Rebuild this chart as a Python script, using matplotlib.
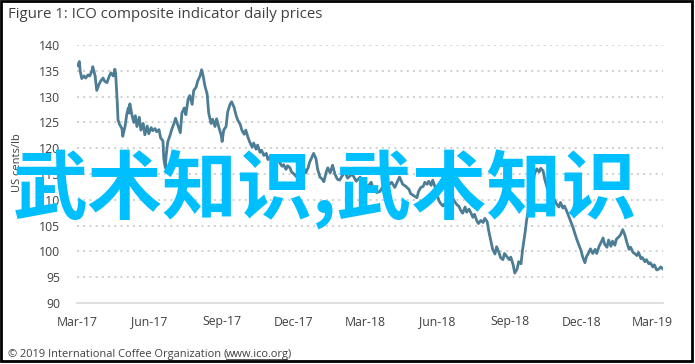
import numpy as np
import pandas as pd
import matplotlib
matplotlib.use('Agg')
import matplotlib.pyplot as plt
import matplotlib.dates as mdates
from matplotlib.patches import Rectangle

# days after 1 Mar 2017
day = [1, 3, 4, 6, 9, 11, 14, 16, 19, 20, 23, 25, 28, 30, 33, 35, 38, 41, 43, 46,
       48, 49, 51, 52, 54, 57, 58, 61, 63, 65, 66, 67, 70, 72, 74, 76, 79, 81, 84, 86,
       89, 91, 94, 96, 99, 101, 104, 106, 109, 110, 112, 113, 115, 118, 120, 123, 125, 128, 131, 133,
       136, 138, 141, 143, 146, 148, 151, 153, 156, 158, 160, 162, 165, 167, 170, 172, 175, 177, 180, 183,
       184, 186, 189, 191, 194, 196, 199, 202, 204, 207, 209, 212, 214, 217, 219, 222, 224, 227, 229, 232,
       234, 237, 240, 242, 245, 247, 250, 252, 255, 257, 260, 262, 265, 267, 270, 272, 275, 278, 280, 283,
       285, 288, 290, 293, 295, 298, 300, 303, 305, 308, 311, 313, 316, 318, 321, 324, 327, 330, 333, 336,
       340, 343, 349, 354, 359, 364, 369, 373, 376, 380, 384, 388, 392, 395, 399, 403, 407, 409, 413, 417,
       421, 423, 427, 431, 433, 436, 439, 441, 444, 446, 449, 451, 454, 456, 459, 461, 464, 466, 469, 471,
       474, 477, 479, 482, 484, 487, 489, 492, 494, 497, 499, 502, 504, 507, 509, 512, 515, 517, 520, 522,
       525, 527, 530, 532, 535, 537, 540, 542, 545, 548, 550, 553, 555, 558, 560, 563, 565, 568, 570, 573,
       575, 578, 580, 583, 586, 588, 591, 593, 596, 598, 601, 603, 606, 608, 611, 613, 616, 618, 621, 624,
       626, 629, 631, 634, 636, 639, 641, 644, 646, 649, 651, 654, 657, 659, 662, 664, 667, 669, 672, 674,
       677, 679, 682, 684, 687, 689, 692, 695, 697, 700, 702, 705, 707, 710, 712, 715, 717, 720, 722, 725,
       727, 730, 732, 735, 738, 740, 743]

price = [136.0, 136.8, 135.0, 133.5, 134.0, 133.6, 134.2, 134.0, 135.0, 135.8, 134.0, 131.2, 132.4, 133.0, 133.6, 133.0, 132.7, 134.0, 134.6, 134.0,
         135.3, 134.5, 129.0, 125.5, 124.6, 123.8, 122.3, 124.3, 126.5, 127.8, 126.8, 128.6, 126.2, 125.0, 126.3, 124.2, 126.0, 123.5, 124.8, 122.6,
         124.3, 122.8, 124.0, 123.4, 123.8, 123.2, 123.6, 122.0, 121.4, 118.0, 116.2, 118.5, 121.2, 122.5, 123.6, 124.8, 125.8, 124.4, 123.0, 126.8,
         127.8, 126.5, 129.6, 130.2, 128.5, 131.2, 131.8, 133.0, 134.0, 135.2, 134.0, 132.2, 130.5, 126.8, 124.8, 125.6, 124.2, 125.7, 124.0, 122.4,
         121.3, 123.5, 124.2, 127.0, 128.5, 129.0, 128.0, 126.2, 125.4, 124.6, 123.5, 122.7, 123.5, 122.0, 121.2, 120.2, 121.0, 119.8, 120.6, 119.2,
         119.6, 118.6, 119.0, 117.8, 118.4, 117.6, 118.2, 117.5, 118.0, 117.2, 116.5, 116.8, 115.9, 116.6, 116.2, 115.4, 115.0, 114.5, 115.5, 116.5,
         115.6, 116.0, 115.2, 116.2, 117.3, 118.3, 119.0, 118.0, 116.0, 114.4, 114.0, 113.5, 115.4, 116.2, 115.2, 116.7, 115.0, 114.0, 113.8, 114.6,
         115.4, 114.2, 115.0, 113.6, 114.4, 113.0, 112.6, 113.4, 112.0, 111.4, 111.6, 112.6, 112.0, 112.8, 113.4, 112.4, 113.8, 114.4, 113.0, 112.6,
         112.0, 111.2, 110.8, 110.4, 111.6, 112.4, 112.6, 113.4, 113.0, 113.6, 112.8, 113.8, 112.5, 111.2, 109.8, 109.3, 108.8, 109.2, 108.6, 110.0,
         109.2, 110.2, 109.6, 109.0, 108.8, 107.8, 107.4, 108.6, 107.6, 108.2, 107.6, 106.6, 107.2, 105.9, 105.4, 106.0, 105.6, 106.4, 105.8, 104.0,
         101.8, 100.4, 99.5, 100.9, 99.8, 98.8, 98.4, 99.6, 99.0, 98.4, 98.9, 97.4, 95.8, 96.6, 98.0, 97.6, 100.4, 103.5, 106.0, 108.6,
         110.4, 112.8, 115.0, 116.0, 115.4, 116.1, 115.6, 114.0, 112.4, 111.6, 112.0, 110.8, 109.8, 109.2, 108.6, 109.5, 108.4, 108.8, 107.8, 106.6,
         105.8, 104.6, 103.6, 102.2, 101.4, 100.2, 99.0, 97.8, 99.0, 99.8, 100.5, 99.6, 100.4, 99.6, 101.0, 101.6, 102.6, 101.4, 100.8, 102.2,
         101.0, 102.0, 101.2, 102.4, 102.8, 103.2, 104.2, 103.0, 101.8, 100.4, 100.8, 99.8, 99.6, 99.2, 99.8, 98.6, 98.8, 98.0, 98.4, 97.6,
         97.8, 97.0, 97.4, 96.4, 96.6, 97.0, 96.6]

y_ticks = [90, 95, 100, 105, 110, 115, 120, 125, 130, 135, 140]
x_ticks = ['2017-03-01', '2017-06-01', '2017-09-01', '2017-12-01', '2018-03-01',
           '2018-06-01', '2018-09-01', '2018-12-01', '2019-03-01']

title = 'Figure 1: ICO composite indicator daily prices'
source = '\u00a9 2019 International Coffee Organization ('
source_link = 'www.ico.org'
overlay = '武术知识,武术知识'

start = pd.Timestamp('2017-03-01')
dates = start + pd.to_timedelta(day, unit='D')

W, H = 695, 364
fig = plt.figure(figsize=(W / 100, H / 100), dpi=100)
fig.patch.set_facecolor('white')

ax = fig.add_axes([77 / W, 1 - 303 / H, 586 / W, 258 / H])
ax.plot(dates, price, color='#4d7d94', lw=2.0, zorder=3)

ax.set_ylim(90, 140)
ax.set_yticks(y_ticks)
ax.set_xlim(start, start + pd.Timedelta(days=743))
ax.set_xticks(pd.to_datetime(x_ticks))
ax.xaxis.set_major_formatter(mdates.DateFormatter('%b-%y'))

for v in y_ticks[1:]:
    ax.axhline(v, color='#cfcfcf', lw=1.4, ls=(0, (1, 2.2)), zorder=1)

for s in ['top', 'right', 'left']:
    ax.spines[s].set_visible(False)
ax.spines['bottom'].set_color('#d9d9d9')
ax.spines['bottom'].set_linewidth(1.2)
ax.tick_params(length=0, labelsize=8.8, colors='#404040')
ax.tick_params(axis='y', pad=12)
ax.tick_params(axis='x', pad=9)
for lab in ax.get_xticklabels() + ax.get_yticklabels():
    lab.set_family('Open Sans')

fig.text(18 / W, 1 - 163 / H, 'US cents/lb', rotation=90, ha='center', va='center',
         fontsize=8, color='#404040', family='Open Sans')

fig.text(8 / W, 1 - 15 / H, title, ha='left', va='center', fontsize=10.8,
         color='#404040', family='Open Sans')

fs = 7.9
t = fig.text(8 / W, 1 - 354 / H, source, ha='left', va='center', fontsize=fs,
             color='#404040', family='Open Sans')
fig.canvas.draw()
bb = t.get_window_extent()
t2 = fig.text((bb.x1 - 1) / W, 1 - 354 / H, source_link, ha='left', va='center', fontsize=fs,
              color='#404040', family='Open Sans')
fig.canvas.draw()
bb2 = t2.get_window_extent()
fig.text((bb2.x1 - 2) / W, 1 - 354 / H, ')', ha='left', va='center', fontsize=fs,
         color='#404040', family='Open Sans')
fig.add_artist(plt.Line2D([bb2.x0 / W, (bb2.x1 - 2) / W], [(bb2.y0 + 1) / H] * 2,
                          color='#404040', lw=0.6))

fig.text(325 / W, 1 - 190 / H, overlay, ha='center', va='center', fontsize=54,
         color='#00bfff', fontweight='bold', family=['Noto Sans CJK SC', 'DejaVu Sans'],
         zorder=10)

# frame around the whole picture
fig.add_artist(Rectangle((1 / W, 3 / H), 691 / W, 360 / H, transform=fig.transFigure,
                         fill=False, edgecolor='black', lw=2))

fig.savefig('out.png', dpi=100)
